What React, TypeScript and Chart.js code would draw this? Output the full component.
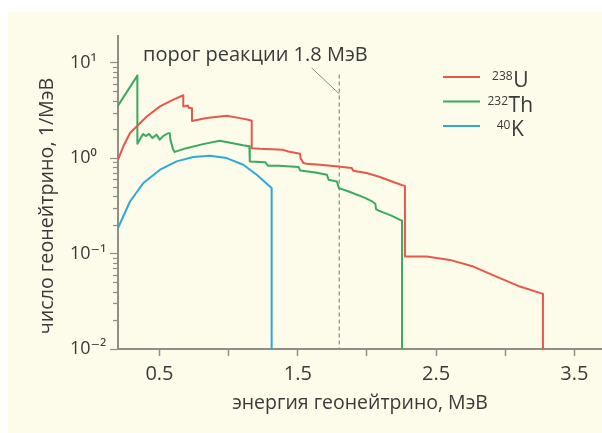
import React, { useEffect, useRef } from 'react';
import { Chart, registerables } from 'chart.js';

Chart.register(...registerables);

// ---- data ----
const uEnergy = [0.2, 0.238, 0.287, 0.34, 0.408, 0.504, 0.6, 0.672, 0.672, 0.705, 0.712, 0.735, 0.735, 0.841, 0.986, 1.082, 1.142, 1.167, 1.167, 1.227, 1.395, 1.431, 1.516, 1.52, 1.54, 1.564, 1.661, 1.793, 1.89, 1.901, 1.998, 2.094, 2.191, 2.275, 2.275, 2.432, 2.6, 2.769, 2.962, 3.107, 3.273, 3.273];
const uValue = [0.96, 1.32, 1.83, 2.18, 2.73, 3.48, 4.09, 4.55, 3.46, 3.56, 3.36, 3.33, 2.45, 2.63, 2.78, 2.62, 2.52, 2.46, 1.27, 1.25, 1.22, 1.17, 1.11, 1.0, 0.887, 0.873, 0.851, 0.817, 0.787, 0.737, 0.697, 0.633, 0.561, 0.509, 0.0933, 0.0929, 0.0858, 0.073, 0.0552, 0.0451, 0.0378, 0.01];

const thEnergy = [0.2, 0.34, 0.34, 0.381, 0.401, 0.425, 0.449, 0.478, 0.502, 0.526, 0.562, 0.574, 0.579, 0.598, 0.61, 0.694, 0.815, 0.935, 0.983, 1.104, 1.15, 1.153, 1.265, 1.284, 1.361, 1.506, 1.518, 1.627, 1.711, 1.723, 1.783, 1.797, 1.869, 1.99, 2.037, 2.061, 2.066, 2.085, 2.181, 2.254, 2.254];
const thValue = [3.54, 7.31, 1.41, 1.79, 1.7, 1.79, 1.62, 1.76, 1.56, 1.7, 1.82, 1.82, 1.56, 1.24, 1.16, 1.27, 1.4, 1.52, 1.47, 1.36, 1.33, 0.92, 0.906, 0.832, 0.83, 0.805, 0.741, 0.707, 0.668, 0.593, 0.569, 0.485, 0.447, 0.381, 0.351, 0.332, 0.292, 0.282, 0.248, 0.22, 0.01];

const kEnergy = [0.2, 0.287, 0.383, 0.504, 0.624, 0.744, 0.865, 0.986, 1.106, 1.203, 1.311, 1.311];
const kValue = [0.185, 0.351, 0.547, 0.755, 0.923, 1.026, 1.058, 1.0, 0.851, 0.668, 0.485, 0.01];

const thresholdEnergy = 1.8;
const thresholdLineValues = [7.5, 0.01];
const leaderEnergy = [1.6, 1.8];
const leaderValue = [8.8, 4.7];
const thresholdLabel = 'порог реакции 1.8 МэВ';

const seriesIsotope = ['238', '232', '40'];
const seriesElement = ['U', 'Th', 'K'];
const seriesColor = ['#e8584a', '#3ba95f', '#2fa8da'];

const xTickValues = [0.5, 1.0, 1.5, 2.0, 2.5, 3.0, 3.5];
const xTickLabels = ['0.5', '', '1.5', '', '2.5', '', '3.5'];
const yDecades = [0.01, 0.1, 1, 10];
const yDecadeLabels = ['10\u207B\u00B2', '10\u207B\u00B9', '10\u2070', '10\u00B9'];
const yMinorMultipliers = [2, 3, 4, 5, 6, 7, 8, 9];

const xTitle = 'энергия геонейтрино, МэВ';
const yTitle = 'число геонейтрино, 1/МэВ';

const FONT = '"Open Sans", "DejaVu Sans", sans-serif';
const TEXT = '#3a3a3a';
const AXIS = '#908f86';

const toPoints = (xs: number[], ys: number[]) => xs.map((x, i) => ({ x, y: ys[i] }));

const isDecade = (v: number) => yDecades.some((d) => Math.abs(d - v) < d * 1e-6);

const overlayPlugin = {
  id: 'overlay',
  afterDraw(chart: any) {
    const ctx = chart.ctx as CanvasRenderingContext2D;
    const area = chart.chartArea;
    const yScale = chart.scales.y;

    // minor y ticks (short), positioned by the log scale
    ctx.save();
    ctx.strokeStyle = AXIS;
    ctx.lineWidth = 1.2;
    yScale.ticks.forEach((t: any) => {
      if (isDecade(t.value)) return;
      const py = Math.round(yScale.getPixelForValue(t.value)) + 0.5;
      ctx.beginPath();
      ctx.moveTo(area.left - 5, py);
      ctx.lineTo(area.left, py);
      ctx.stroke();
    });
    ctx.restore();

    // y title
    ctx.save();
    ctx.fillStyle = TEXT;
    ctx.font = `19.7px ${FONT}`;
    ctx.textAlign = 'center';
    ctx.textBaseline = 'middle';
    ctx.translate(39, 194);
    ctx.rotate(-Math.PI / 2);
    ctx.fillText(yTitle, 0, 0);
    ctx.restore();

    // threshold label
    ctx.save();
    ctx.fillStyle = TEXT;
    ctx.font = `20px ${FONT}`;
    ctx.textAlign = 'left';
    ctx.textBaseline = 'middle';
    ctx.fillText(thresholdLabel, 135, 43);
    ctx.restore();

    // legend
    ctx.save();
    const legendY0 = 65;
    const gap = 24.5;
    for (let i = 0; i < seriesElement.length; i++) {
      const y = legendY0 + i * gap;
      ctx.strokeStyle = seriesColor[i];
      ctx.lineWidth = 2;
      ctx.beginPath();
      ctx.moveTo(435, y);
      ctx.lineTo(472, y);
      ctx.stroke();
      ctx.fillStyle = TEXT;
      ctx.font = `12px ${FONT}`;
      const wSup = ctx.measureText(seriesIsotope[i]).width;
      ctx.font = `21px ${FONT}`;
      const wMain = ctx.measureText(seriesElement[i]).width;
      const x0 = 502 - (wSup + wMain) / 2;
      const base = y + 10;
      ctx.textBaseline = 'alphabetic';
      ctx.textAlign = 'left';
      ctx.font = `12px ${FONT}`;
      ctx.fillText(seriesIsotope[i], x0, base - 7);
      ctx.font = `21px ${FONT}`;
      ctx.fillText(seriesElement[i], x0 + wSup + 0.5, base);
    }
    ctx.restore();
  },
};

export default function App() {
  const ref = useRef<HTMLCanvasElement | null>(null);
  useEffect(() => {
    if (!ref.current) return;
    const curve = (label: string, xs: number[], ys: number[], color: string) => ({
      label,
      data: toPoints(xs, ys),
      borderColor: color,
      backgroundColor: color,
      borderWidth: 2,
      pointRadius: 0,
      tension: 0,
      fill: false,
      borderJoinStyle: 'round' as const,
    });
    const chart = new Chart(ref.current, {
      type: 'line',
      data: {
        datasets: [
          curve('238U', uEnergy, uValue, seriesColor[0]),
          curve('232Th', thEnergy, thValue, seriesColor[1]),
          curve('40K', kEnergy, kValue, seriesColor[2]),
          {
            label: 'threshold',
            data: thresholdLineValues.map((y) => ({ x: thresholdEnergy, y })),
            borderColor: '#8a8a84',
            borderWidth: 1.2,
            borderDash: [4, 3],
            pointRadius: 0,
          },
          {
            label: 'leader',
            data: toPoints(leaderEnergy, leaderValue),
            borderColor: '#8a8a84',
            borderWidth: 1,
            pointRadius: 0,
          },
        ],
      },
      options: {
        animation: false,
        responsive: true,
        maintainAspectRatio: false,
        layout: { padding: { left: 62, top: 24, right: 0, bottom: 0 } },
        plugins: { legend: { display: false }, tooltip: { enabled: false } },
        scales: {
          x: {
            type: 'linear',
            min: 0.2,
            max: 3.7,
            afterBuildTicks: (axis: any) => {
              axis.ticks = xTickValues.map((value) => ({ value }));
            },
            afterFit: (axis: any) => {
              axis.height = 84;
            },
            ticks: {
              autoSkip: false,
              maxRotation: 0,
              padding: 6,
              color: TEXT,
              font: { family: FONT, size: 20 },
              callback: (value: any) => {
                const i = xTickValues.findIndex((v) => Math.abs(v - value) < 1e-9);
                return i >= 0 ? xTickLabels[i] : '';
              },
            },
            grid: { drawOnChartArea: false, drawTicks: true, tickLength: 7, tickColor: AXIS, tickWidth: 1.5 },
            border: { display: true, color: AXIS, width: 2 },
            title: {
              display: true,
              text: xTitle,
              color: TEXT,
              font: { family: FONT, size: 19.5 },
              padding: { top: 0, bottom: 18 },
            },
          },
          y: {
            type: 'logarithmic',
            min: 0.01,
            max: 19,
            afterBuildTicks: (axis: any) => {
              const ticks: any[] = [];
              yDecades.forEach((d, i) => {
                ticks.push({ value: d, major: true });
                if (i < yDecades.length - 1) yMinorMultipliers.forEach((m) => ticks.push({ value: +(d * m).toPrecision(6) }));
              });
              axis.ticks = ticks;
            },
            afterFit: (axis: any) => {
              axis.width = 48;
            },
            ticks: {
              autoSkip: false,
              crossAlign: 'far',
              color: TEXT,
              font: { family: FONT, size: 18 },
              callback: (value: any) => {
                const i = yDecades.findIndex((d) => Math.abs(d - value) < d * 1e-6);
                return i >= 0 ? yDecadeLabels[i] : '';
              },
            },
            grid: {
              drawOnChartArea: false,
              drawTicks: true,
              tickLength: 8,
              tickWidth: 1.2,
              tickColor: (ctx: any) => (ctx.tick && isDecade(ctx.tick.value) ? AXIS : 'rgba(0,0,0,0)'),
            },
            border: { display: true, color: AXIS, width: 2 },
          },
        },
      },
      plugins: [overlayPlugin],
    } as any);
    return () => chart.destroy();
  }, []);

  return (
    <div
      style={{
        position: 'fixed',
        left: 8,
        top: 12,
        width: 594,
        height: 421,
        background: '#fdfbea',
      }}
    >
      <canvas ref={ref} />
    </div>
  );
}
